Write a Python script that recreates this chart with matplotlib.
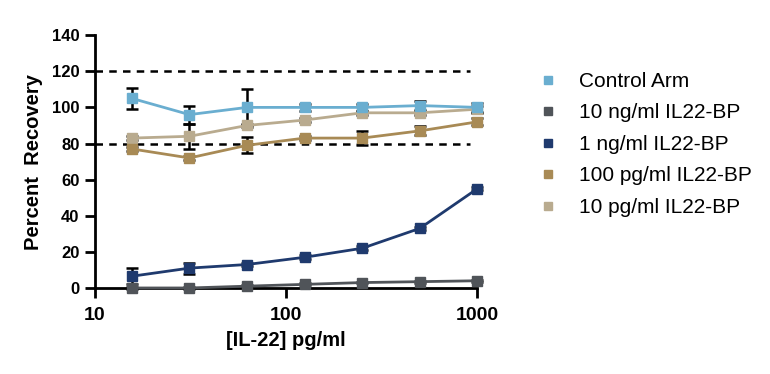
import numpy as np
import matplotlib.pyplot as plt
from matplotlib.lines import Line2D

plt.rcParams['font.family'] = ['Liberation Sans', 'DejaVu Sans']

# IL-22 concentrations (pg/ml)
conc = [15.625, 31.25, 62.5, 125, 250, 500, 1000]

control = [105, 96, 100, 100, 100, 101, 100]
control_err = [6, 5, 10, 2, 2, 2.5, 2.5]

ng10 = [0, 0, 1, 2, 3, 3.5, 4]
ng10_err = [0.5, 0.5, 0.5, 0.5, 0.5, 0.5, 0.5]

ng1 = [6.5, 11, 13, 17, 22, 33, 55]
ng1_err = [4.5, 3, 1, 1, 1, 1, 1]

pg100 = [77, 72, 79, 83, 83, 87, 92]
pg100_err = [1, 1, 4.5, 1, 4, 2.5, 2]

pg10 = [83, 84, 90, 93, 97, 97, 99]
pg10_err = [1, 7, 1, 1, 1, 1, 2]

series = [
    ("Control Arm", control, control_err, "#6aaed0"),
    ("10 ng/ml IL22-BP", ng10, ng10_err, "#505459"),
    ("1 ng/ml IL22-BP", ng1, ng1_err, "#1f3a6e"),
    ("100 pg/ml IL22-BP", pg100, pg100_err, "#a88a55"),
    ("10 pg/ml IL22-BP", pg10, pg10_err, "#b9ab8f"),
]

fig = plt.figure(figsize=(7.7, 3.74), dpi=100)
ax = fig.add_axes([0.123, 0.23, 0.497, 0.676])

# limits of acceptable recovery
for yl in (80, 120):
    ax.plot([10, 920], [yl, yl], color="black", linestyle=(0, (3, 2.5)), linewidth=1.8, zorder=1)

# draw back to front so control sits on top
for name, y, err, color in reversed(series):
    ax.errorbar(conc, y, yerr=err, color=color, ecolor="black", elinewidth=1.8,
                capsize=4, capthick=1.8, zorder=2, clip_on=False, linestyle="none")
    ax.plot(conc, y, color=color, linewidth=2, marker="s", markersize=7.5,
            zorder=3, clip_on=False)

ax.set_xscale("log")
ax.set_xlim(10, 1000)
ax.set_ylim(0, 140)
ax.set_yticks(range(0, 141, 20))
ax.set_xticks([10, 100, 1000])
ax.set_xticklabels(["10", "100", "1000"])
ax.xaxis.set_minor_locator(plt.NullLocator())

for side in ("top", "right"):
    ax.spines[side].set_visible(False)
for side in ("left", "bottom"):
    ax.spines[side].set_linewidth(2)
ax.tick_params(width=2, length=7.5, labelsize=12)
ax.tick_params(axis="x", pad=6, labelsize=14)
for lbl in ax.get_xticklabels() + ax.get_yticklabels():
    lbl.set_fontweight("bold")

ax.set_ylabel("Percent  Recovery", fontsize=14.5, fontweight="bold", labelpad=6)
ax.set_xlabel("[IL-22] pg/ml", fontsize=14.5, fontweight="bold", labelpad=5)

handles = [Line2D([], [], color=c, marker="s", linestyle="none", markersize=6)
           for _, _, _, c in series]
fig.legend(handles, [s[0] for s in series], loc="upper left",
           bbox_to_anchor=(0.674, 0.858), frameon=False, fontsize=15,
           handletextpad=1.0, labelspacing=0.6, handlelength=1.0)

fig.savefig("out.png", dpi=100)
